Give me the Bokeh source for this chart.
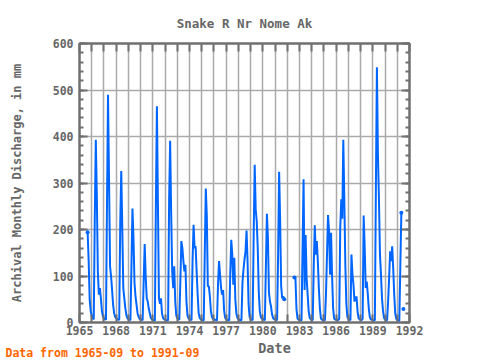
import math
from bokeh.plotting import figure
from bokeh.layouts import column
from bokeh.models import (ColumnDataSource, FixedTicker, SingleIntervalTicker,
                          LinearAxis, Range1d, Grid)
from bokeh.core.properties import value
from bokeh.embed import file_html
from bokeh.resources import INLINE

nan = float("nan")

# Monthly discharge (mm), Jan..Dec for each year
q1965 = [nan, nan, nan, nan, nan, nan, nan, nan, 194, 132, 49, 25]
q1966 = [14, 9, 7, 225, 393, 276, 110, 60, 74, 52, 25, 13]
q1967 = [9, 7, 6, 254, 490, 308, 121, 99, 70, 38, 20, 12]
q1968 = [9, 7, 6, 6, 214, 326, 203, 74, 52, 31, 16, 9]
q1969 = [7, 6, 5, 121, 245, 182, 85, 56, 38, 20, 12, 8]
q1970 = [7, 6, 5, 88, 169, 99, 52, 45, 30, 20, 10, 7]
q1971 = [6, 5, 4, 254, 465, 255, 52, 40, 52, 20, 10, 7]
q1972 = [6, 5, 5, 5, 267, 391, 236, 110, 74, 121, 45, 15]
q1973 = [9, 7, 6, 88, 175, 160, 132, 110, 124, 45, 15, 9]
q1974 = [7, 6, 5, 132, 210, 160, 164, 110, 60, 20, 10, 7]
q1975 = [6, 5, 5, 150, 288, 229, 78, 78, 56, 25, 12, 8]
q1976 = [7, 6, 5, 5, 81, 132, 103, 74, 60, 70, 25, 10]
q1977 = [7, 6, 5, 5, 103, 178, 146, 81, 139, 49, 20, 10]
q1978 = [7, 6, 5, 5, 85, 114, 135, 153, 198, 132, 40, 12]
q1979 = [8, 6, 5, 186, 339, 243, 218, 160, 67, 25, 12, 8]
q1980 = [8, 6, 5, 120, 234, 182, 65, 45, 35, 18, 10, 7]
q1981 = [7, 6, 5, 146, 324, 218, 78, 52, 56, 50, nan, nan]
q1982 = [nan, nan, nan, nan, nan, nan, nan, 97, 97, 30, 9, 6]
q1983 = [6, 5, 5, 160, 308, 70, 188, 95, 60, 25, 10, 7]
q1984 = [6, 5, 124, 209, 146, 175, 132, 74, 31, 9, 6, 5]
q1985 = [5, 5, 60, 146, 231, 196, 103, 193, 99, 31, 9, 6]
q1986 = [7, 6, 5, 8, 203, 265, 223, 393, 265, 124, 40, 12]
q1987 = [8, 6, 5, 146, 103, 81, 45, 52, 56, 24, 9, 7]
q1988 = [6, 5, 8, 230, 162, 74, 88, 63, 31, 12, 7, 6]
q1989 = [5, 5, 5, 290, 549, 362, 266, 146, 103, 52, 25, 10]
q1990 = [6, 5, 5, 45, 96, 153, 132, 164, 117, 60, 20, 8]
q1991 = [5, 4, 4, 121, 236, nan, 29, nan, nan, nan, nan, nan]

years = list(range(1965, 1992))
yearly = [q1965, q1966, q1967, q1968, q1969, q1970, q1971, q1972, q1973,
          q1974, q1975, q1976, q1977, q1978, q1979, q1980, q1981, q1982,
          q1983, q1984, q1985, q1986, q1987, q1988, q1989, q1990, q1991]

x_ticks = list(range(1965, 1993))
x_labels = {yr: (str(yr) if (yr - 1965) % 3 == 0 else "") for yr in x_ticks}

t, q = [], []
for yr, vals in zip(years, yearly):
    for m, v in enumerate(vals):
        t.append(yr + m / 12.0)
        q.append(v)
# data period 1965-09 .. 1991-09
t = t[8:8 + 313]
q = q[8:8 + 313]

src = ColumnDataSource(dict(t=t, q=q))

# markers where a point starts or ends a run of data (visible as dots)
mt, mq = [], []
for i, v in enumerate(q):
    if math.isnan(v):
        continue
    prev_nan = i == 0 or math.isnan(q[i - 1])
    next_nan = i == len(q) - 1 or math.isnan(q[i + 1])
    if prev_nan or next_nan:
        mt.append(t[i])
        mq.append(v)
pts = ColumnDataSource(dict(t=mt, q=mq))

FONT = "DejaVu Sans Mono"
GRAY = "#666666"
FRAME = "#707070"
BLUE = "#0066ff"

p = figure(width=480, height=340, output_backend="svg", toolbar_location=None,
           x_range=Range1d(1965, 1992), y_range=Range1d(0, 600),
           min_border_left=79, min_border_right=71, min_border_top=43,
           min_border_bottom=18, x_axis_type=None, y_axis_type=None,
           title="Snake R Nr Nome Ak")
p.background_fill_color = "white"
p.border_fill_color = "white"
p.outline_line_color = FRAME
p.outline_line_width = 2

p.title.align = "center"
p.title.text_font = FONT
p.title.text_font_size = "12.5px"
p.title.text_font_style = "bold"
p.title.text_color = GRAY
p.title.standoff = 25

def style_axis(ax, labels=True):
    ax.axis_line_color = FRAME
    ax.axis_line_width = 2
    ax.major_tick_line_color = FRAME
    ax.major_tick_line_width = 2
    ax.minor_tick_line_color = FRAME
    ax.minor_tick_line_width = 2
    ax.major_tick_in = 8
    ax.major_tick_out = 0
    ax.minor_tick_in = 4
    ax.minor_tick_out = 0
    ax.major_label_text_font = FONT
    ax.major_label_text_font_style = "bold"
    if labels:
        ax.major_label_text_color = GRAY
        ax.major_label_text_font_size = "11.5px"
    else:
        ax.major_label_text_color = None
        ax.major_label_text_font_size = "1px"
        ax.major_label_standoff = 0
    ax.axis_label_text_font = FONT
    ax.axis_label_text_font_style = "bold"
    ax.axis_label_text_color = GRAY

xb = LinearAxis(ticker=FixedTicker(ticks=x_ticks), major_label_overrides=x_labels)
style_axis(xb)
xb.major_label_standoff = 3
p.add_layout(xb, "below")

xt = LinearAxis(ticker=FixedTicker(ticks=x_ticks))
style_axis(xt, labels=False)
p.add_layout(xt, "above")

yl = LinearAxis(ticker=SingleIntervalTicker(interval=100, num_minor_ticks=5),
                axis_label="Archival Monthly Discharge, in mm")
style_axis(yl)
yl.major_label_standoff = 6
yl.axis_label_standoff = 26
yl.axis_label_text_font_size = "12px"
p.add_layout(yl, "left")

yr_ax = LinearAxis(ticker=SingleIntervalTicker(interval=100, num_minor_ticks=5))
style_axis(yr_ax, labels=False)
p.add_layout(yr_ax, "right")

p.add_layout(Grid(dimension=0, ticker=xb.ticker, grid_line_color="#aaaaaa",
                  grid_line_width=1.5))
p.add_layout(Grid(dimension=1, ticker=yl.ticker, grid_line_color="#aaaaaa",
                  grid_line_width=1.5))

p.line("t", "q", source=src, line_color=BLUE, line_width=2)
p.scatter("t", "q", source=pts, size=4, marker="circle",
          fill_color=BLUE, line_color=None)

# footer strip (pixel coordinates) holding the x-axis title and data note
f = figure(width=480, height=20, output_backend="svg", toolbar_location=None,
           x_axis_type=None, y_axis_type=None, min_border=0)
f.outline_line_color = None
f.background_fill_color = "white"
f.border_fill_color = "white"

try:
    # keep the footer's frame independent of the chart's frame
    p.frame_align = False
    f.frame_align = False
    f.x_range = Range1d(0, 480)
    date_x, note_x = 274, 5
except Exception:
    # frames aligned: footer frame spans pixels 79..409
    f.x_range = Range1d(79, 409)
    date_x, note_x = 340, 82
f.y_range = Range1d(0, 20)

f.text(x=[date_x], y=[12.5], text=["Date"], text_font=value(FONT),
       text_font_style="bold", text_font_size="13.5px", text_color=GRAY,
       text_align="center", text_baseline="middle")
f.text(x=[note_x], y=[8], text=["Data from 1965-09 to 1991-09"],
       text_font=value(FONT), text_font_style="bold",
       text_font_size="11.5px", text_color="#ff6600",
       text_align="left", text_baseline="middle")

layout = column(p, f, spacing=0)
open("out.html", "w").write(file_html(layout, INLINE))
